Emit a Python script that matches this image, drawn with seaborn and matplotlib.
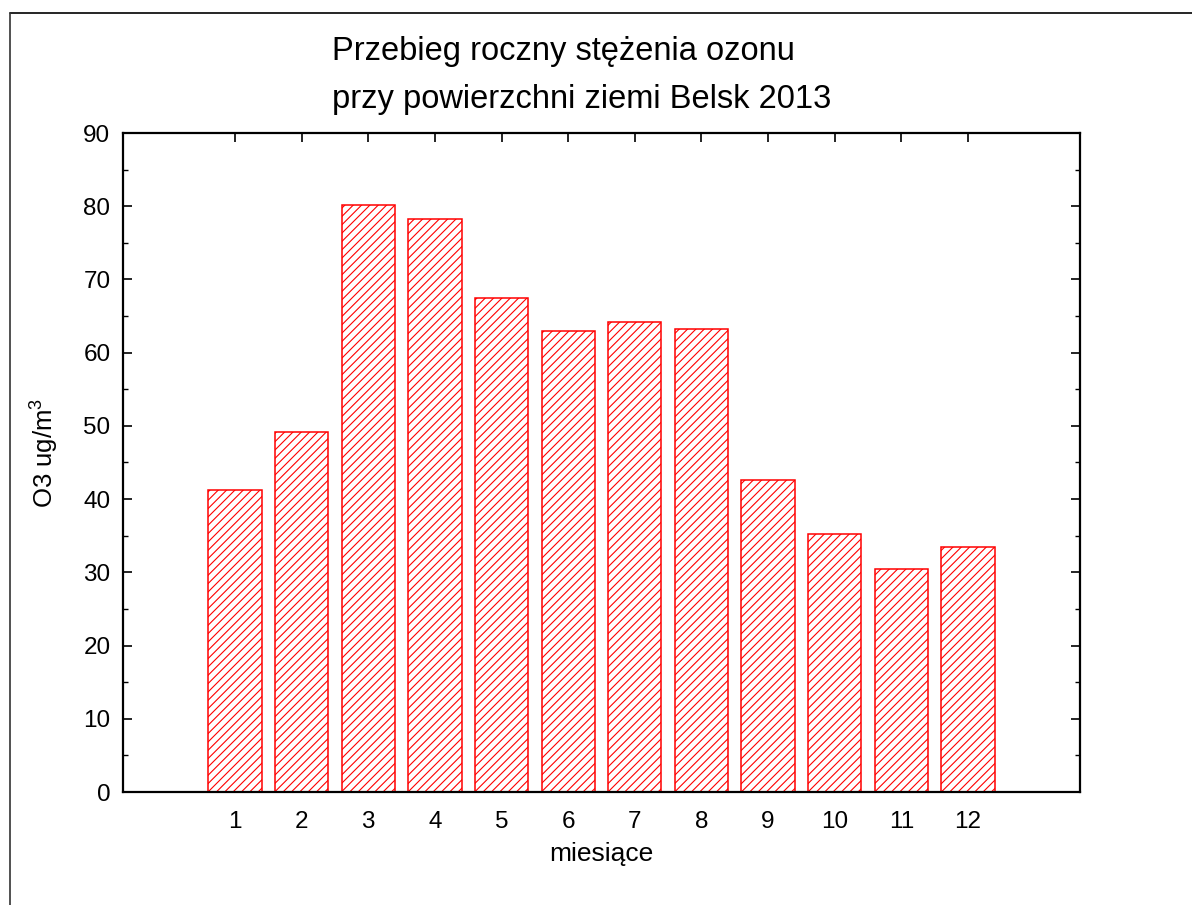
import matplotlib
matplotlib.use("Agg")
import matplotlib.pyplot as plt
from matplotlib.lines import Line2D
from matplotlib.ticker import MultipleLocator
import seaborn as sns

# Monthly mean surface ozone, Belsk 2013
months = ["1", "2", "3", "4", "5", "6", "7", "8", "9", "10", "11", "12"]
ozone = [41.2, 49.2, 80.2, 78.3, 67.4, 63.0, 64.2, 63.3, 42.6, 35.2, 30.5, 33.4]

title_lines = ["Przebieg roczny stężenia ozonu", "przy powierzchni ziemi Belsk 2013"]
x_label = "miesiące"
y_label = r"O3 ug/m$^3$"

sns.set_style("ticks")
plt.rcParams["font.family"] = ["Liberation Sans", "DejaVu Sans"]
plt.rcParams["mathtext.fontset"] = "custom"
plt.rcParams["mathtext.rm"] = "Liberation Sans"
plt.rcParams["mathtext.it"] = "Liberation Sans"
plt.rcParams["text.color"] = "black"
plt.rcParams["axes.labelcolor"] = "black"
plt.rcParams["xtick.color"] = "black"
plt.rcParams["ytick.color"] = "black"
plt.rcParams["hatch.color"] = "red"
plt.rcParams["hatch.linewidth"] = 0.8

W, H = 1192, 905
fig = plt.figure(figsize=(W / 100, H / 100), dpi=100)
ax = fig.add_axes([123 / W, 1 - 792 / H, (1080 - 123) / W, (792 - 133) / H])

sns.barplot(x=months, y=ozone, ax=ax, width=0.8, color="white", saturation=1,
            edgecolor="red", linewidth=1.1, hatch="////")

ax.set_xlim(-1.68, 12.68)
ax.set_ylim(0, 90)
ax.yaxis.set_major_locator(MultipleLocator(10))
ax.yaxis.set_minor_locator(MultipleLocator(5))

for s in ax.spines.values():
    s.set_visible(True)
    s.set_linewidth(1.6)
    s.set_color("black")

ax.tick_params(axis="both", which="major", direction="in", length=6.5, width=1.2,
               top=True, right=True, labelsize=17.5)
ax.tick_params(axis="y", which="major", pad=9)
ax.tick_params(axis="x", which="major", pad=14)
ax.tick_params(axis="y", which="minor", direction="in", length=3.6, width=1.0,
               left=True, right=True)

ax.set_xlabel(x_label, fontsize=19, labelpad=6)
ax.set_ylabel(y_label, fontsize=18.5)
ax.yaxis.set_label_coords(-0.065, 0.515)

fig.text(332 / W, 1 - 60 / H, title_lines[0], fontsize=23.5, ha="left", va="baseline")
fig.text(332 / W, 1 - 108 / H, title_lines[1], fontsize=23.5, ha="left", va="baseline")

# outer frame (top and left edges)
fig.add_artist(Line2D([9.5 / W, 1.0], [1 - 13.5 / H, 1 - 13.5 / H], color="black", lw=1.2,
                      transform=fig.transFigure))
fig.add_artist(Line2D([9.5 / W, 9.5 / W], [0, 1 - 13.5 / H], color="#333333", lw=1.2,
                      transform=fig.transFigure))

fig.savefig("out.png", dpi=100, facecolor="white")
